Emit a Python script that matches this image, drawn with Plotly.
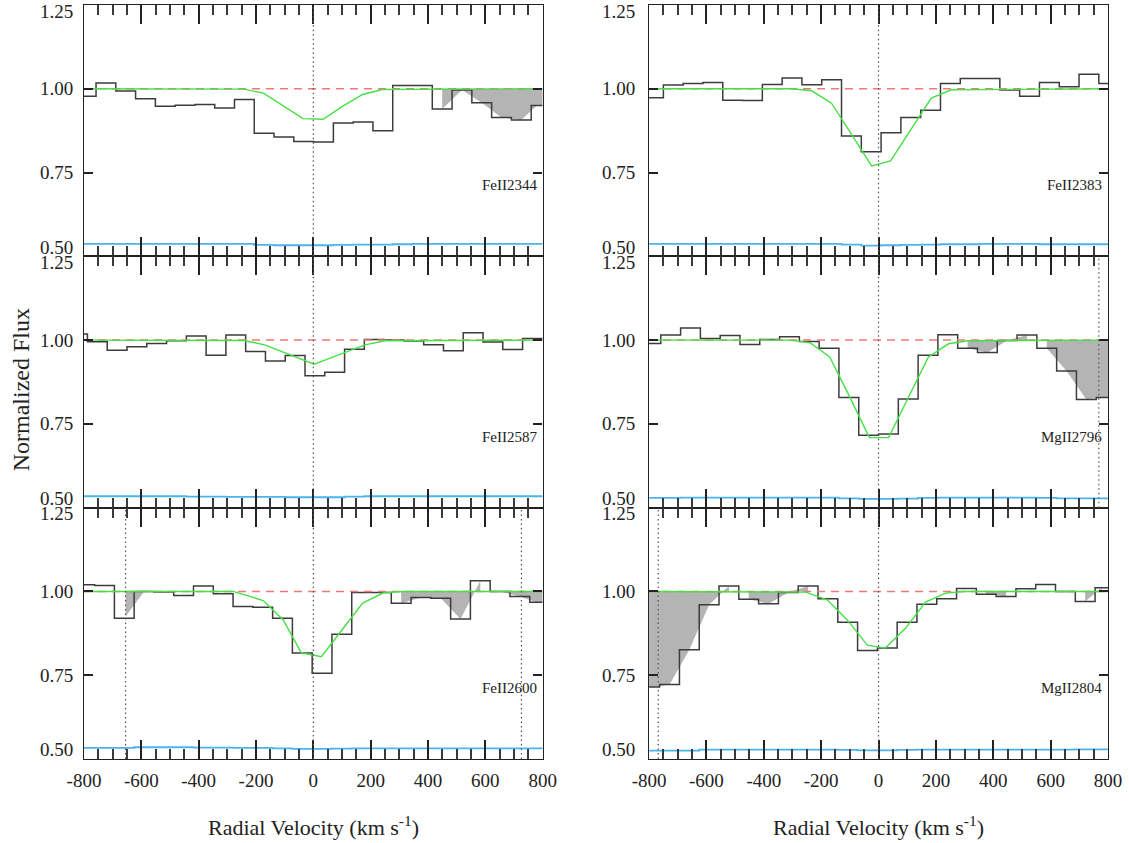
import numpy as np
import plotly.graph_objects as go

# ---------------------------------------------------------------- axes
vel_ticks = [-800, -600, -400, -200, 0, 200, 400, 600, 800]
vel_tick_labels = ["-800", "-600", "-400", "-200", "0", "200", "400", "600", "800"]
vel_minor_ticks = [v for v in range(-800, 801, 50) if v not in vel_ticks]
flux_ticks = [0.50, 0.75, 1.00, 1.25]
flux_tick_labels = ["0.50", "0.75", "1.00", "1.25"]
continuum = 1.0

# ---------------------------------------------------------------- Fe II 2344
fe2344_edges = [-800, -758, -689, -620, -551, -482, -413, -344, -275, -206, -137, -68, 1,
                70, 139, 208, 277, 346, 415, 484, 553, 622, 691, 760, 800]
fe2344_flux = [0.978, 1.017, 0.993, 0.970, 0.948, 0.951, 0.953, 0.943, 0.968, 0.867, 0.856, 0.843,
               0.841, 0.898, 0.901, 0.875, 1.010, 1.010, 0.940, 0.996, 0.958, 0.914, 0.907, 0.950]
fe2344_err = [0.537, 0.537, 0.537, 0.537, 0.537, 0.537, 0.537, 0.537, 0.537, 0.534, 0.533, 0.533,
              0.533, 0.534, 0.535, 0.535, 0.536, 0.537, 0.537, 0.537, 0.537, 0.537, 0.537, 0.537]
fe2344_model_v = [-800, -243, -174, -105, -36, 34, 103, 172, 241, 800]
fe2344_model_f = [1.0, 0.999, 0.987, 0.950, 0.911, 0.909, 0.948, 0.983, 0.998, 1.0]
fe2344_blends = [(449.5, 800)]
fe2344_marks = [0]

# ---------------------------------------------------------------- Fe II 2383
fe2383_edges = [-800, -750, -681, -612, -543, -474, -405, -336, -267, -198, -129, -60, 9,
                78, 147, 216, 285, 354, 423, 492, 561, 630, 699, 768, 800]
fe2383_flux = [0.973, 1.011, 1.016, 1.019, 0.966, 0.965, 1.013, 1.032, 1.012, 1.027, 0.859, 0.812,
               0.869, 0.914, 0.936, 1.016, 1.031, 1.031, 0.996, 0.978, 1.019, 1.006, 1.043, 1.016]
fe2383_err = [0.537, 0.537, 0.537, 0.537, 0.537, 0.537, 0.537, 0.537, 0.537, 0.537, 0.535, 0.532,
              0.533, 0.534, 0.535, 0.536, 0.536, 0.537, 0.537, 0.537, 0.536, 0.536, 0.536, 0.536]
fe2383_model_v = [-800, -302, -233, -164, -94, -24, 42, 113, 184, 254, 800]
fe2383_model_f = [1.0, 1.0, 0.994, 0.957, 0.864, 0.770, 0.785, 0.880, 0.972, 0.997, 1.0]
fe2383_blends = []
fe2383_marks = [0]

# ---------------------------------------------------------------- Fe II 2587
fe2587_edges = [-800, -788, -719, -650, -581, -512, -443, -374, -305, -236, -167, -98, -29,
                40, 109, 178, 247, 316, 385, 454, 523, 592, 661, 730, 800]
fe2587_flux = [1.018, 0.995, 0.970, 0.980, 0.990, 0.998, 1.012, 0.955, 1.015, 0.966, 0.938, 0.954,
               0.894, 0.904, 0.973, 1.002, 1.000, 0.997, 0.986, 0.968, 1.022, 0.994, 0.972, 1.005]
fe2587_err = [0.534, 0.534, 0.534, 0.534, 0.534, 0.534, 0.533, 0.533, 0.532, 0.532, 0.532, 0.531,
              0.531, 0.531, 0.533, 0.534, 0.534, 0.534, 0.534, 0.534, 0.534, 0.534, 0.534, 0.534]
fe2587_model_v = [-800, -240, -170, -100, -30, 3, 40, 110, 180, 250, 800]
fe2587_model_f = [1.0, 0.999, 0.986, 0.963, 0.940, 0.928, 0.940, 0.963, 0.986, 0.998, 1.0]
fe2587_blends = []
fe2587_marks = [0]

# ---------------------------------------------------------------- Mg II 2796
mg2796_edges = [-800, -759, -690, -621, -552, -483, -414, -345, -276, -207, -138, -69, 0,
                69, 138, 207, 276, 345, 414, 483, 552, 621, 690, 759, 800]
mg2796_flux = [0.990, 1.015, 1.036, 1.005, 1.014, 0.987, 1.002, 1.010, 0.996, 0.976, 0.829, 0.716,
               0.720, 0.824, 0.955, 1.016, 0.976, 0.963, 0.999, 1.015, 0.976, 0.908, 0.823, 0.829]
mg2796_err = [0.529, 0.529, 0.530, 0.530, 0.530, 0.530, 0.530, 0.530, 0.530, 0.530, 0.528, 0.526,
              0.526, 0.527, 0.529, 0.530, 0.530, 0.530, 0.530, 0.530, 0.529, 0.528, 0.528, 0.528]
mg2796_model_v = [-800, -310, -239, -170, -100, -32, 35, 104, 174, 244, 312, 800]
mg2796_model_f = [1.0, 1.0, 0.992, 0.950, 0.830, 0.709, 0.709, 0.830, 0.950, 0.989, 0.998, 1.0]
mg2796_blends = [(310.5, 517.5), (586.5, 800)]
mg2796_marks = [0, 768]

# ---------------------------------------------------------------- Fe II 2600
fe2600_edges = [-800, -763, -694, -625, -556, -487, -418, -349, -280, -211, -142, -73, -4,
                65, 134, 203, 272, 341, 410, 479, 548, 617, 686, 755, 800]
fe2600_flux = [1.020, 1.018, 0.920, 1.000, 0.998, 0.988, 1.016, 0.993, 0.955, 0.953, 0.920, 0.816,
               0.756, 0.872, 0.997, 0.997, 0.965, 0.982, 0.980, 0.918, 1.032, 1.000, 0.985, 0.968]
fe2600_err = [0.533, 0.533, 0.533, 0.535, 0.535, 0.535, 0.534, 0.534, 0.533, 0.533, 0.532, 0.530,
              0.530, 0.531, 0.532, 0.532, 0.532, 0.532, 0.532, 0.532, 0.532, 0.532, 0.532, 0.532]
fe2600_model_v = [-800, -280, -175, -105, -42, 28, 100, 172, 245, 315, 800]
fe2600_model_f = [1.0, 1.0, 0.973, 0.915, 0.817, 0.805, 0.885, 0.965, 0.996, 1.0, 1.0]
fe2600_blends = [(-655, -590.5), (306.5, 582.5), (651.5, 800)]
fe2600_marks = [0, -655, 726]

# ---------------------------------------------------------------- Mg II 2804
mg2804_edges = [-800, -763, -694, -625, -556, -487, -418, -349, -280, -211, -142, -73, -4,
                65, 134, 203, 272, 341, 410, 479, 548, 617, 686, 755, 800]
mg2804_flux = [0.715, 0.722, 0.826, 0.960, 1.016, 0.977, 0.963, 0.997, 1.016, 0.978, 0.908, 0.824,
               0.831, 0.908, 0.962, 0.978, 1.009, 0.992, 0.985, 1.008, 1.021, 1.000, 0.970, 1.011]
mg2804_err = [0.525, 0.525, 0.525, 0.528, 0.528, 0.528, 0.528, 0.528, 0.528, 0.528, 0.527, 0.526,
              0.526, 0.527, 0.528, 0.528, 0.528, 0.528, 0.528, 0.528, 0.528, 0.528, 0.529, 0.529]
mg2804_model_v = [-800, -320, -254, -179, -109, -39, 24, 94, 164, 234, 300, 800]
mg2804_model_f = [1.0, 1.0, 0.998, 0.975, 0.915, 0.840, 0.831, 0.890, 0.968, 0.995, 1.0, 1.0]
mg2804_blends = [(-800, -521.5), (-452.5, -245.5), (375.5, 444.5), (720.5, 777.5)]
mg2804_marks = [0, -768]

panels = [
    ("FeII2344", fe2344_edges, fe2344_flux, fe2344_err, fe2344_model_v, fe2344_model_f, fe2344_blends, fe2344_marks),
    ("FeII2383", fe2383_edges, fe2383_flux, fe2383_err, fe2383_model_v, fe2383_model_f, fe2383_blends, fe2383_marks),
    ("FeII2587", fe2587_edges, fe2587_flux, fe2587_err, fe2587_model_v, fe2587_model_f, fe2587_blends, fe2587_marks),
    ("MgII2796", mg2796_edges, mg2796_flux, mg2796_err, mg2796_model_v, mg2796_model_f, mg2796_blends, mg2796_marks),
    ("FeII2600", fe2600_edges, fe2600_flux, fe2600_err, fe2600_model_v, fe2600_model_f, fe2600_blends, fe2600_marks),
    ("MgII2804", mg2804_edges, mg2804_flux, mg2804_err, mg2804_model_v, mg2804_model_f, mg2804_blends, mg2804_marks),
]

# ---------------------------------------------------------------- styling
SERIF = "Liberation Serif"
TEXT = "#222222"
HIST = "#3c3c3c"
ERR = "#4ab4ee"
MODEL = "#46e046"
CONT = "#f07878"
BLEND = "#b4b4b4"
FRAME = "#222222"

W, H = 1129, 843
MARGIN = dict(l=84, r=21, t=5, b=84)
col_domains = [[0.0, 0.4479], [0.5518, 1.0]]
row_domains = [[2 / 3, 1.0], [1 / 3, 2 / 3], [0.0, 1 / 3]]

fig = go.Figure()
annotations = []
shapes = []

for i, (name, edges, flux, err, mv, mf, blends, marks) in enumerate(panels):
    k = i + 1
    sfx = "" if k == 1 else str(k)
    xa, ya = "x" + sfx, "y" + sfx
    row, col = divmod(i, 2)

    edges_a = np.asarray(edges, dtype=float)
    flux_a = np.asarray(flux, dtype=float)
    centers = 0.5 * (edges_a[:-1] + edges_a[1:])

    # shaded blends: area between the continuum and the data
    for a, b in blends:
        inner = centers[(centers > a) & (centers < b)]
        pts = np.concatenate([[a], inner, [b]])
        vals = np.interp(pts, centers, flux_a)
        fig.add_trace(go.Scatter(
            x=np.concatenate([[a], pts, [b]]),
            y=np.concatenate([[continuum], vals, [continuum]]),
            mode="lines", fill="toself", fillcolor=BLEND,
            line=dict(width=0, color=BLEND), xaxis=xa, yaxis=ya,
            hoverinfo="skip", showlegend=False))

    # error spectrum
    fig.add_trace(go.Scatter(
        x=edges, y=list(err) + [err[-1]], mode="lines", line_shape="hv",
        line=dict(color=ERR, width=1.8), xaxis=xa, yaxis=ya,
        hoverinfo="skip", showlegend=False))

    # observed spectrum (histogram)
    fig.add_trace(go.Scatter(
        x=edges, y=list(flux) + [flux[-1]], mode="lines", line_shape="hv",
        line=dict(color=HIST, width=1.5), xaxis=xa, yaxis=ya,
        hoverinfo="skip", showlegend=False))

    # continuum
    fig.add_trace(go.Scatter(
        x=[vel_ticks[0], vel_ticks[-1]], y=[continuum, continuum], mode="lines",
        line=dict(color=CONT, width=1.5, dash="8px,6px"), xaxis=xa, yaxis=ya,
        hoverinfo="skip", showlegend=False))

    # fitted profile
    fig.add_trace(go.Scatter(
        x=mv, y=mf, mode="lines", line=dict(color=MODEL, width=1.4),
        xaxis=xa, yaxis=ya, hoverinfo="skip", showlegend=False))

    # velocity markers
    for v in marks:
        shapes.append(dict(type="line", xref=xa, yref=ya + " domain", x0=v, x1=v, y0=0, y1=1,
                           line=dict(color="#555555", width=1.2, dash="1.5px,3px"), layer="above"))

    bottom = row == 2
    fig.update_layout(**{
        "xaxis" + sfx: dict(
            domain=col_domains[col], anchor=ya, range=[vel_ticks[0], vel_ticks[-1]],
            tickmode="array", tickvals=vel_ticks, ticktext=vel_tick_labels,
            showticklabels=bottom, ticks="inside", ticklen=19, tickwidth=1.9, tickcolor="#222222",
            minor=dict(tickmode="array", tickvals=vel_minor_ticks, ticks="inside", ticklen=10,
                       tickwidth=1.6, tickcolor="#3a3a3a"),
            mirror="allticks", showline=True, linecolor=FRAME, linewidth=1.3,
            showgrid=False, zeroline=False, ticklabelstandoff=4, layer="above traces",
            tickfont=dict(family=SERIF, size=19, color=TEXT)),
        "yaxis" + sfx: dict(
            domain=row_domains[row], anchor=xa, range=[flux_ticks[0], flux_ticks[-1]],
            tickmode="array", tickvals=flux_ticks, showticklabels=False,
            ticks="inside", ticklen=9, tickwidth=1.9, tickcolor="#222222",
            mirror="allticks", showline=True, linecolor=FRAME, linewidth=1.3,
            showgrid=False, zeroline=False, layer="above traces"),
    })

    # flux tick labels
    for val, lab in zip(flux_ticks, flux_tick_labels):
        shift = 0
        if val == flux_ticks[-1]:
            shift = -6
        elif val == flux_ticks[0]:
            shift = 9
        annotations.append(dict(
            text=lab, xref=xa + " domain", yref=ya, x=0, y=val,
            xanchor="right", yanchor="middle", xshift=-9 if col == 0 else -12, yshift=shift,
            showarrow=False, font=dict(family=SERIF, size=19, color=TEXT)))

    # transition name
    annotations.append(dict(
        text=name, xref=xa, yref=ya, x=vel_ticks[-1], y=0.712,
        xanchor="right", yanchor="middle", xshift=-4, showarrow=False,
        font=dict(family=SERIF, size=15, color=TEXT)))

# axis titles
for col in range(2):
    annotations.append(dict(
        text="Radial Velocity (km s<sup>-1</sup>)", xref="paper", yref="paper",
        x=sum(col_domains[col]) / 2, y=-0.089, xanchor="center", yanchor="middle",
        showarrow=False, font=dict(family=SERIF, size=22, color=TEXT)))
annotations.append(dict(
    text="Normalized Flux", xref="paper", yref="paper", x=-0.0615, y=0.489,
    xanchor="center", yanchor="middle", textangle=-90, showarrow=False,
    font=dict(family=SERIF, size=24, color=TEXT)))

fig.update_layout(
    width=W, height=H, margin=MARGIN,
    paper_bgcolor="white", plot_bgcolor="white",
    showlegend=False, annotations=annotations, shapes=shapes,
)

fig.write_html("out.html")
